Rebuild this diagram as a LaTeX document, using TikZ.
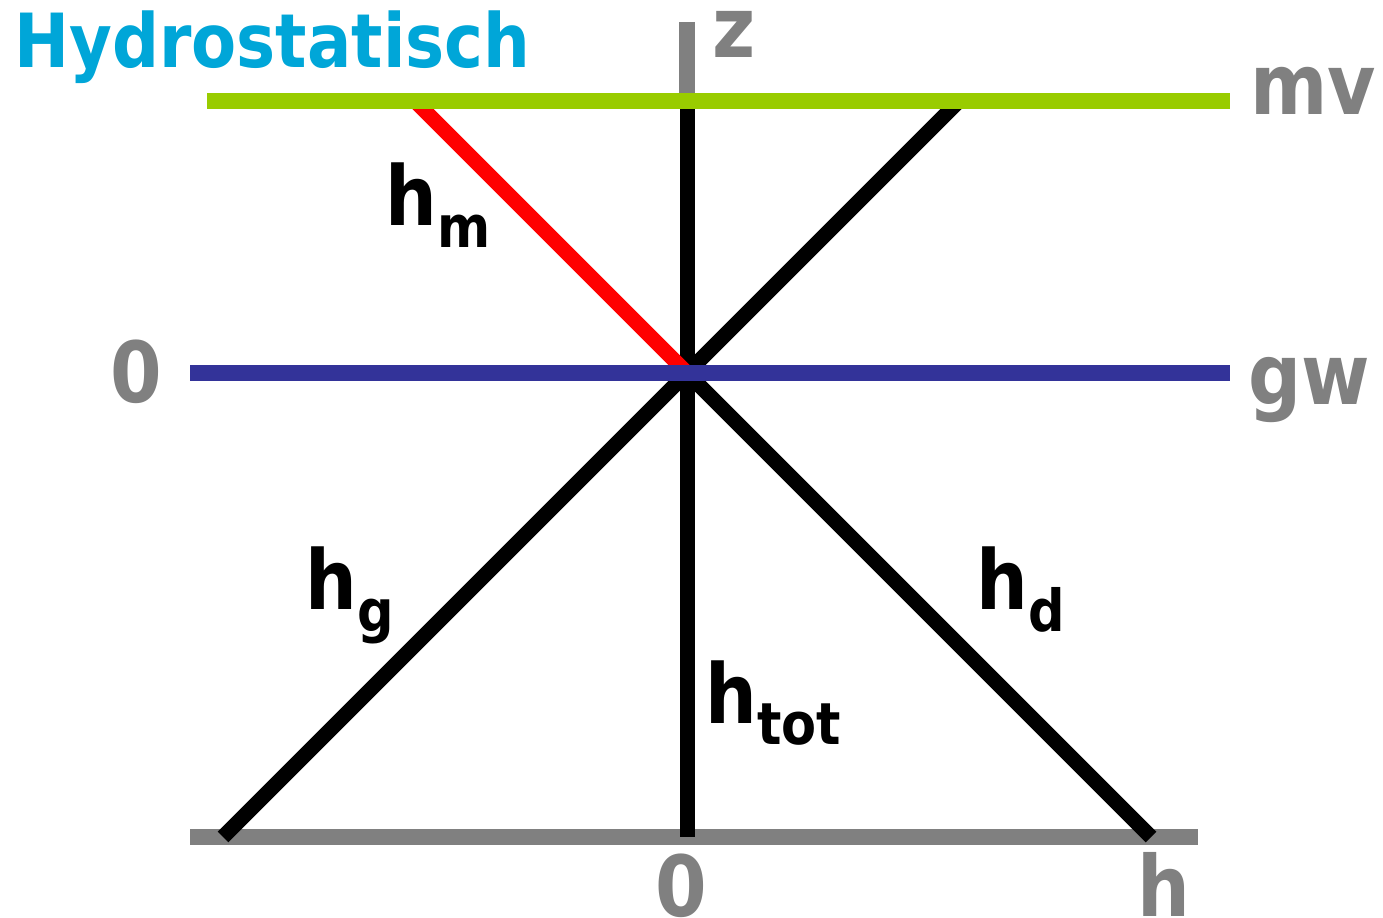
\documentclass[tikz,border=0pt]{standalone}
\usepackage{fontspec}
\setmainfont{DejaVu Sans}[FakeStretch=0.88]
\definecolor{axisgray}{RGB}{128,128,128}
\definecolor{mvgreen}{RGB}{153,204,0}
\definecolor{gwblue}{RGB}{51,51,153}
\definecolor{titleblue}{RGB}{0,166,216}
\newcommand{\hsub}[1]{h\raisebox{-12pt}{\fontsize{33}{33}\selectfont #1}}
\begin{document}
\begin{tikzpicture}[x=0.02cm,y=-0.02cm,
		axisline/.style={draw=axisgray, line width=0.32cm},
		headline/.style={draw=black, line width=0.3cm},
		levelline/.style={line width=0.32cm},
		axislabel/.style={text=axisgray, inner sep=0pt, anchor=base west, font=\fontsize{48}{48}\selectfont\bfseries},
		hlabel/.style={inner sep=0pt, anchor=base west, font=\fontsize{47}{47}\selectfont\bfseries}
		]
		\useasboundingbox (0,0) rectangle (1383,918);
		% punten
		\coordinate (O) at (687,373);
		\coordinate (ztop) at (687,22);
		\coordinate (zmv) at (687,101);
		\coordinate (zbot) at (687,837);
		\coordinate (mvL) at (207,101);
		\coordinate (mvR) at (1230,101);
		\coordinate (gwL) at (190,373);
		\coordinate (gwR) at (1230,373);
		\coordinate (hL) at (190,837);
		\coordinate (hR) at (1198,837);
		\coordinate (mtop) at (415,101);
		\coordinate (rtop) at (959,101);
		\coordinate (gbot) at (223,837);
		\coordinate (dbot) at (1151,837);
		% assen
		\draw[axisline] (hL) -- (hR);
		\draw[axisline] (ztop) -- (zmv);
		% stijghoogtes
		\draw[headline] (zmv) -- (zbot);
		\draw[headline] (O) -- (rtop);
		\draw[headline] (O) -- (gbot);
		\draw[headline] (O) -- (dbot);
		\draw[headline, draw=red] (mtop) -- (O);
		% maaiveld en grondwater
		\draw[levelline, draw=mvgreen] (mvL) -- (mvR);
		\draw[levelline, draw=gwblue] (gwL) -- (gwR);
		% teksten
		\node[inner sep=0pt, anchor=base west, text=titleblue, font=\fontsize{42.5}{42.5}\selectfont\bfseries] (title) at (14,68) {Hydrostatisch};
		\node[axislabel] (zlab) at (712,58) {z};
		\node[axislabel] (mvlab) at (1250,115) {mv};
		\node[axislabel] (gwlab) at (1248,405) {gw};
		\node[axislabel] (zerolev) at (110,403) {0};
		\node[axislabel] (zeroh) at (655,916) {0};
		\node[axislabel] (hlab) at (1137,916) {h};
		\node[hlabel] (hm) at (385,226) {\hsub{m}};
		\node[hlabel] (hg) at (305,610) {\hsub{g}};
		\node[hlabel] (hd) at (976,610) {\hsub{d}};
		\node[hlabel] (htot) at (705,723) {\hsub{tot}};
\end{tikzpicture}
\end{document}
